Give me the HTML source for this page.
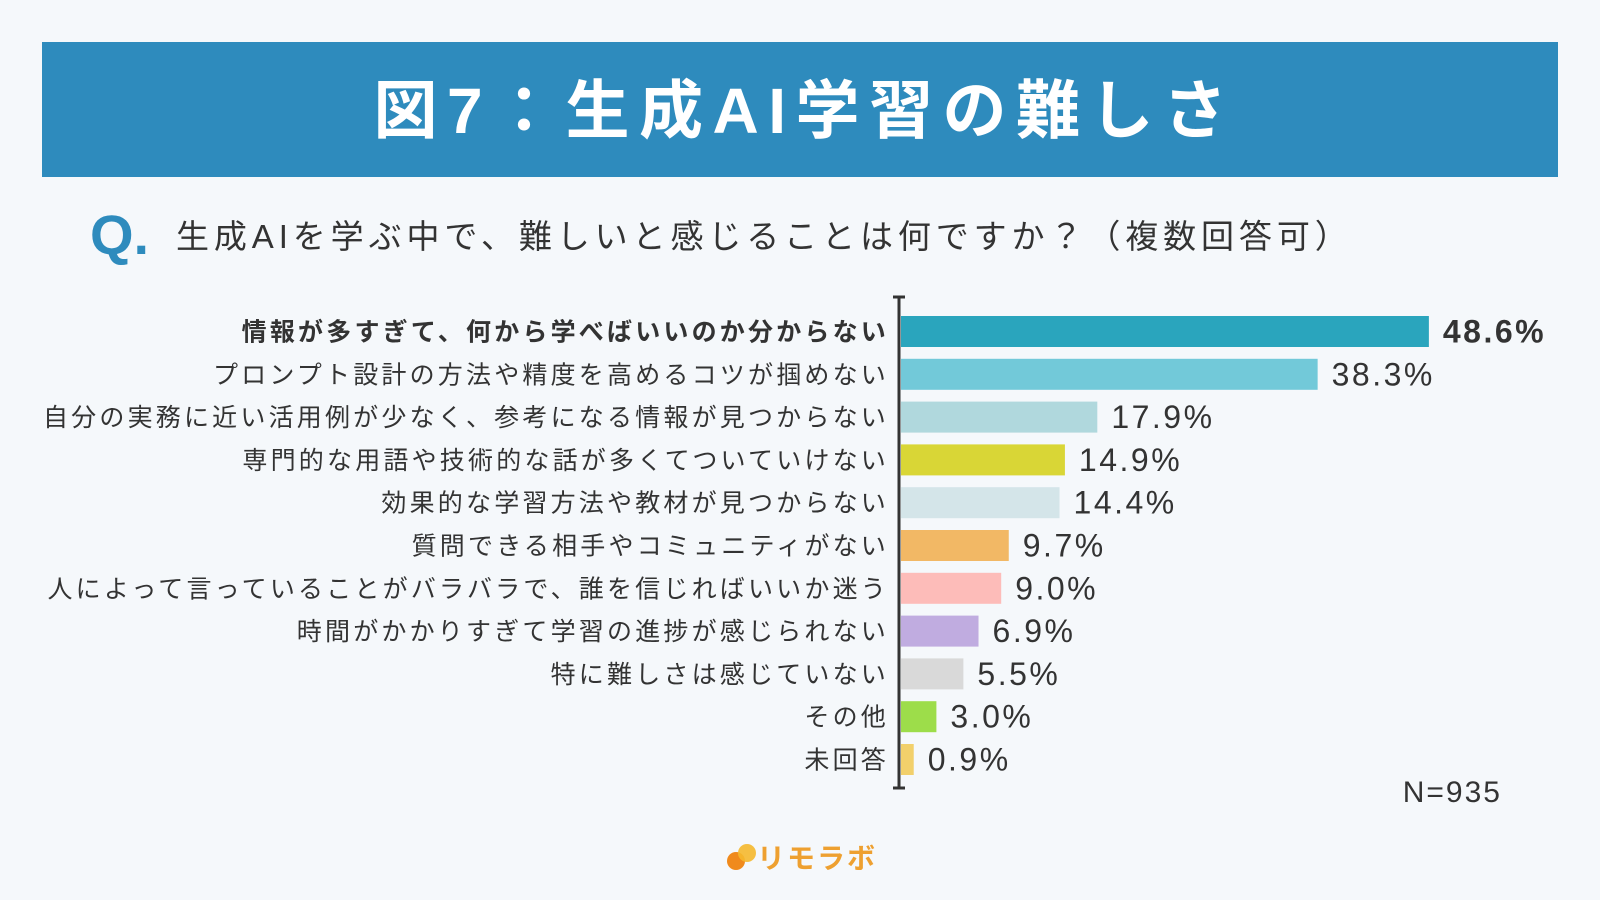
<!DOCTYPE html>
<html><head><meta charset="utf-8">
<style>
html,body{margin:0;padding:0;background:#f5f8fb;}
svg{display:block;font-family:"Liberation Sans","Noto Sans CJK JP",sans-serif;}
</style></head>
<body>
<svg id="chart" width="1600" height="900" viewBox="0 0 1600 900">
  <rect x="0" y="0" width="1600" height="900" fill="#f5f8fb"/>
  <rect x="42" y="42" width="1516" height="135" fill="#2e8bbd"/>
  <text x="805" y="133" text-anchor="middle" fill="#fff" font-size="64" font-weight="bold" letter-spacing="9.5">図7：生成AI学習の難しさ</text>
  <text x="90" y="254" fill="#2e8bbd" font-size="56" font-weight="bold">Q.</text>
  <text x="176" y="248" fill="#333" font-size="33" letter-spacing="4.9">生成AIを学ぶ中で、難しいと感じることは何ですか？（複数回答可）</text>
  <g id="bars"></g>
  <line x1="899" y1="297" x2="899" y2="788" stroke="#333" stroke-width="3"/>
  <line x1="893" y1="297" x2="905" y2="297" stroke="#333" stroke-width="3"/>
  <line x1="893" y1="788" x2="905" y2="788" stroke="#333" stroke-width="3"/>
  <text x="1502" y="802" text-anchor="end" fill="#333" font-size="30" letter-spacing="2">N=935</text>
  <g>
    <circle cx="736" cy="861" r="9" fill="#f08a1c"/>
    <circle cx="747" cy="853" r="9" fill="#f5b82e" opacity="0.9"/>
    <text x="757" y="868" fill="#eea030" font-size="28" font-weight="bold" letter-spacing="2">リモラボ</text>
  </g>
</svg>
<script>
const categories = [
 "情報が多すぎて、何から学べばいいのか分からない",
 "プロンプト設計の方法や精度を高めるコツが掴めない",
 "自分の実務に近い活用例が少なく、参考になる情報が見つからない",
 "専門的な用語や技術的な話が多くてついていけない",
 "効果的な学習方法や教材が見つからない",
 "質問できる相手やコミュニティがない",
 "人によって言っていることがバラバラで、誰を信じればいいか迷う",
 "時間がかかりすぎて学習の進捗が感じられない",
 "特に難しさは感じていない",
 "その他",
 "未回答"
];
const values = [48.6, 38.3, 17.9, 14.9, 14.4, 9.7, 9.0, 6.9, 5.5, 3.0, 0.9];
const valueLabels = ["48.6%","38.3%","17.9%","14.9%","14.4%","9.7%","9.0%","6.9%","5.5%","3.0%","0.9%"];
const colors = ["#2aa5bd","#72c9d9","#b0d8dd","#d9d636","#d4e5e9","#f2b865","#fdbcb9","#c0ace0","#d9d9d9","#9ddd4a","#f2d06b"];

const NS = "http://www.w3.org/2000/svg";
const x0 = 901, pxPer = 10.8, pxOff = 3;
const xScale = v => v * pxPer + pxOff;
const yTop = 316, step = 42.8, barH = 31;
const yScale = i => yTop + i * step;
const g = document.getElementById("bars");
categories.forEach((c, i) => {
  const y = yScale(i);
  const r = document.createElementNS(NS, "rect");
  r.setAttribute("x", x0);
  r.setAttribute("y", y);
  r.setAttribute("width", Math.max(xScale(values[i]), 0));
  r.setAttribute("height", barH);
  r.setAttribute("fill", colors[i]);
  
  
  g.appendChild(r);
  const t = document.createElementNS(NS, "text");
  t.setAttribute("x", 889);
  t.setAttribute("y", y + barH / 2 + 9);
  t.setAttribute("text-anchor", "end");
  t.setAttribute("font-size", "25");
  t.setAttribute("letter-spacing", "3.2");
  t.setAttribute("fill", "#333");
  if (i === 0) t.setAttribute("font-weight", "bold");
  t.textContent = c;
  
  
  g.appendChild(t);
  const v = document.createElementNS(NS, "text");
  v.setAttribute("x", x0 + xScale(values[i]) + 14);
  v.setAttribute("y", y + barH / 2 + 11);
  v.setAttribute("font-size", "32");
  v.setAttribute("letter-spacing", "2.5");
  v.setAttribute("fill", "#333");
  if (i === 0) v.setAttribute("font-weight", "bold");
  v.textContent = valueLabels[i];
  
  
  g.appendChild(v);
});
</script>
</body></html>
